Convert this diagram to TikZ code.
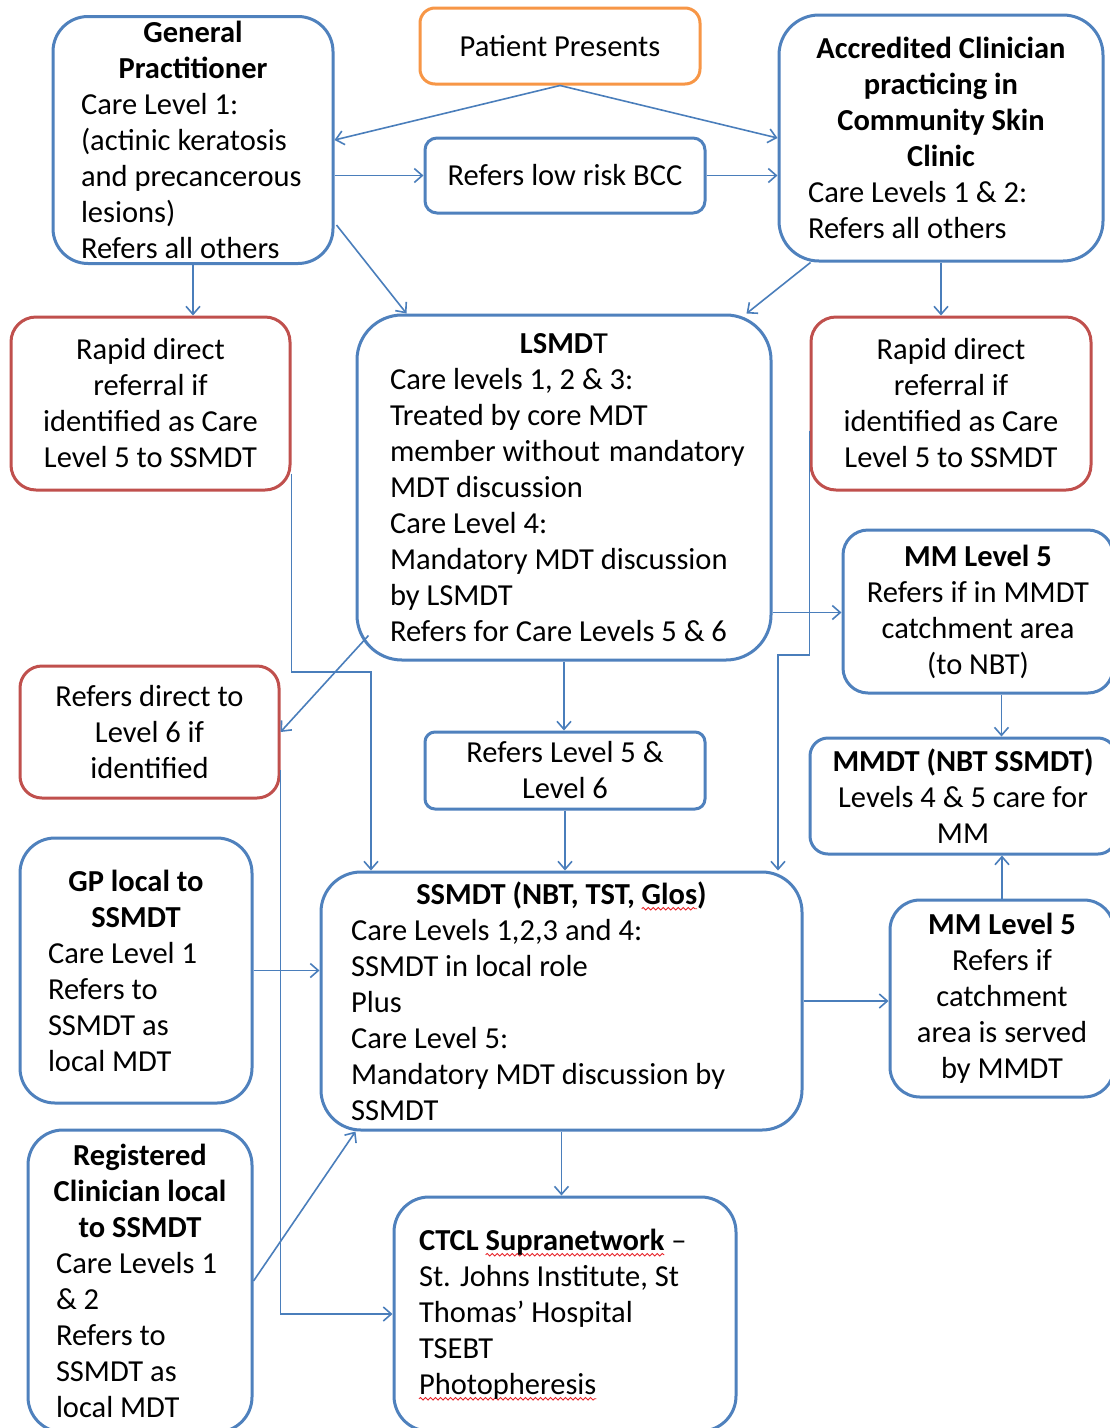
\documentclass[tikz,border=0pt]{standalone}
\usepackage{fontspec}
\setmainfont{Carlito}
\usetikzlibrary{arrows.meta,calc,decorations.pathmorphing}
\definecolor{bl}{HTML}{4F81BD}
\definecolor{rd}{HTML}{C0504D}
\definecolor{og}{HTML}{F79646}
\definecolor{ln}{HTML}{4A7EBB}
\definecolor{wv}{HTML}{E8242A}
\newlength\wvlen
\newcommand\redwave[1]{\settowidth\wvlen{#1}\rlap{\tikz[baseline=0pt,x=1cm,y=1cm,sharp corners]{\useasboundingbox (0pt,0pt); \draw[wv,sharp corners,line width=0.9pt,decorate,decoration={snake,amplitude=1.3pt,segment length=5pt}] (0pt,-4.5pt) -- (\wvlen,-4.5pt);}}#1}
\newcommand\hd[1]{\makebox[\hsize]{\spaceskip=0pt\relax\xspaceskip=0pt\relax\bfseries #1}}
\newcommand\tx[1]{\mbox{\spaceskip=0pt\relax\xspaceskip=0pt\relax #1}}
\begin{document}
\begin{tikzpicture}[x=1pt,y=-1pt,
  box/.style={draw=bl, line width=3pt, fill=white, inner ysep=0pt, text=black,
    font=\fontsize{30.5}{36}\selectfont},
  redbox/.style={box, draw=rd},
  con/.style={draw=ln, line width=1.6pt, -{Straight Barb[length=8pt,width=14pt]}}]
\useasboundingbox (0,0) rectangle (1110,1428);
\clip (0,0) rectangle (1110,1428);
\fill[white] (0,0) rectangle (1110,1428);

% ---------- nodes ----------
\node[box, rounded corners=35pt, minimum width=280pt, minimum height=247pt,
  inner xsep=28pt, text width=224pt, align=left] (gp) at (193,140)
  {\hd{General}\\\hd{Practitioner}\\\tx{Care Level 1:}\\\tx{(actinic keratosis}\\\tx{and precancerous}\\\tx{lesions)}\\\tx{Refers all others}};

\node[box, draw=og, rounded corners=15pt, minimum width=280pt, minimum height=76pt,
  align=center] (pp) at (560,46) {Patient Presents};

\node[box, rounded corners=40pt, minimum width=324pt, minimum height=246pt,
  inner xsep=29pt, text width=266pt, align=left] (acc) at (941,138)
  {\hd{Accredited Clinician}\\\hd{practicing in}\\\hd{Community Skin}\\\hd{Clinic}\\\tx{Care Levels 1 \& 2:}\\\tx{Refers all others}};

\node[box, rounded corners=12pt, minimum width=280pt, minimum height=75pt,
  align=center] (bcc) at (565,175.5) {Refers low risk BCC};

\node[redbox, rounded corners=25pt, minimum width=279pt, minimum height=173pt,
  align=center] (rl) at (150.5,403.5)
  {Rapid direct\\referral if\\identified as Care\\Level 5 to SSMDT};

\node[box, rounded corners=45pt, minimum width=414pt, minimum height=345pt,
  inner xsep=33pt, text width=348pt, align=left] (lsm) at (564,487.5)
  {\makebox[\hsize]{\textbf{LSMD}T}\\\tx{Care levels 1, 2 \& 3:}\\\tx{Treated by core MDT}\\\tx{member without \hspace{2pt}mandatory}\\\tx{MDT discussion}\\\tx{Care Level 4:}\\\tx{Mandatory MDT discussion}\\\tx{by LSMDT}\\\tx{Refers for Care Levels 5 \& 6}};

\node[redbox, rounded corners=25pt, minimum width=280pt, minimum height=173pt,
  align=center] (rr) at (951,403.5)
  {Rapid direct\\referral if\\identified as Care\\Level 5 to SSMDT};

\node[box, rounded corners=25pt, minimum width=270pt, minimum height=163pt,
  align=center] (mm5) at (978,611.5)
  {\textbf{MM Level 5}\\Refers if in MMDT\\catchment area\\(to NBT)};

\node[redbox, rounded corners=22pt, minimum width=259pt, minimum height=132pt,
  align=center] (rd6) at (149.5,732)
  {Refers direct to\\Level 6 if\\identified};

\node[box, rounded corners=10pt, minimum width=280pt, minimum height=77pt,
  align=center] (r56) at (565,770.5)
  {Refers Level 5 \&\\Level 6};

\node[box, rounded corners=18pt, minimum width=306pt, minimum height=116pt,
  align=center] (mmdt) at (963,796)
  {\textbf{MMDT (NBT SSMDT)}\\Levels 4 \& 5 care for\\MM};

\node[box, rounded corners=35pt, minimum width=232pt, minimum height=265pt,
  inner xsep=28pt, text width=176pt, align=left] (gpl) at (136,970.5)
  {\hd{GP local to}\\\hd{SSMDT}\\\tx{Care Level 1}\\\tx{Refers to}\\\tx{SSMDT as}\\\tx{local MDT}};

\node[box, rounded corners=40pt, minimum width=481pt, minimum height=258pt,
  inner xsep=30pt, text width=421pt, align=left] (ss) at (561.5,1001)
  {\hd{SSMDT (NBT, TST, \redwave{Glos})}\\\tx{Care Levels 1,2,3 and 4:}\\\tx{SSMDT in local role}\\\tx{Plus}\\\tx{Care Level 5:}\\\tx{Mandatory MDT discussion by}\\\tx{SSMDT}};

\node[box, rounded corners=30pt, minimum width=224pt, minimum height=197pt,
  align=center] (mmb) at (1002,998.5)
  {\textbf{MM Level 5}\\Refers if\\catchment\\area is served\\by MMDT};

\node[box, rounded corners=35pt, minimum width=224pt, minimum height=302pt,
  inner xsep=28pt, text width=168pt, align=left] (reg) at (140,1281)
  {\hd{Registered}\\\hd{Clinician local}\\\hd{to SSMDT}\\\tx{Care Levels 1}\\\tx{\& 2}\\\tx{Refers to}\\\tx{SSMDT as}\\\tx{local MDT}};

\node[box, rounded corners=35pt, minimum width=342pt, minimum height=234pt,
  inner xsep=25pt, text width=292pt, align=left] (ctcl) at (565,1314)
  {\tx{\textbf{CTCL \redwave{Supranetwork}} –}\\\tx{St. Johns Institute, St}\\\tx{Thomas’ Hospital}\\\tx{TSEBT}\\\tx{\redwave{Photopheresis}}};

% ---------- connectors ----------
\draw[con] (pp.south) -- (gp.east);
\draw[con] (pp.south) -- (acc.west);
\draw[con] (bcc.west -| gp.east) -- (bcc.west);
\draw[con] (bcc.east) -- (bcc.east -| acc.west);
\draw[con] (gp.south) -- (gp.south |- rl.north);
\draw[con] ($(gp.east)+(2,85)$) -- ($(lsm.north west)+(51,0)$);
\draw[con] ($(acc.south west)+(33,0)$) -- ($(lsm.north east)+(-26,0)$);
\draw[con] (acc.south) -- (acc.south |- rr.north);

\coordinate (k1) at (371,672);
\draw[con] ($(rl.south east)+(0,-18)$) |- (k1) -- (k1 |- ss.north);
\coordinate (k2) at (778,655);
\draw[con] ($(rr.west)+(0,27)$) |- (k2) -- (k2 |- ss.north);

\draw[con] ($(lsm.south west)+(13,-26)$) -- (rd6.east);
\draw[con] ($(rd6.east)+(0,38)$) |- (ctcl.west);
\draw[con] (lsm.south) -- (lsm.south |- r56.north);
\draw[con] (r56.south) -- (r56.south |- ss.north);
\draw[con] ($(lsm.east)+(0,125)$) coordinate (m2) -- (m2 -| mm5.west);
\draw[con] ($(mm5.south west)+(160,0)$) coordinate (m1) -- (m1 |- mmdt.north);
\draw[con] (mmb.north) -- (mmb.north |- mmdt.south);
\draw[con] (gpl.east) -- (gpl.east -| ss.west);
\draw[con] (reg.east) -- ($(ss.south west)+(36,0)$);
\draw[con] (ss.east) -- (ss.east -| mmb.west);
\draw[con] (ss.south) -- (ss.south |- ctcl.north);
\end{tikzpicture}
\end{document}
